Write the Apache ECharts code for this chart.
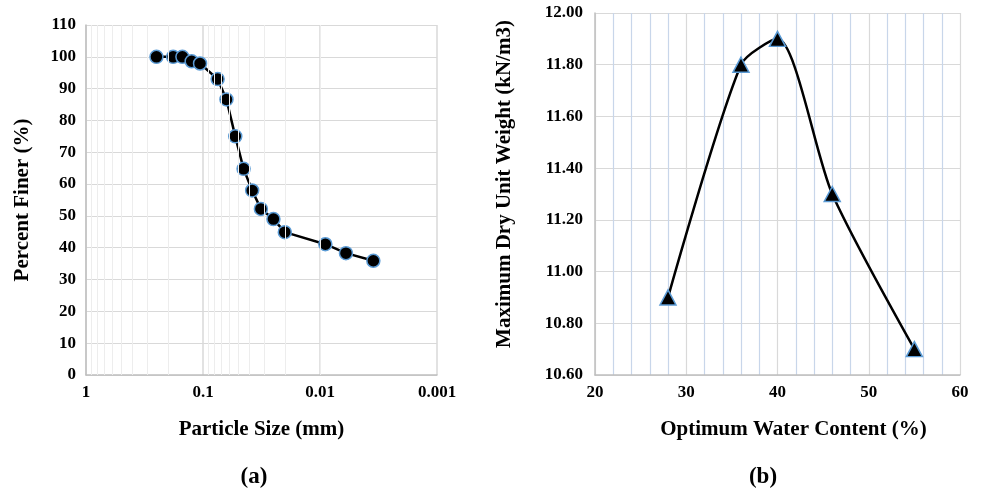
<!DOCTYPE html>
<meta charset="utf-8">
<style>
  html, body { margin: 0; padding: 0; background: #fff; }
  #container { width: 984px; height: 490px; }
</style>
<body>
<div id="container"></div>
<script src="https://cdn.jsdelivr.net/npm/echarts@6/dist/echarts.min.js"></script>
<script>

// (a) grain size curve
var sizeMm = [0.25, 0.18, 0.15, 0.125, 0.106, 0.075, 0.063, 0.053, 0.045, 0.038, 0.032, 0.025, 0.020, 0.009, 0.006, 0.0035];
var percentFiner = [100, 100, 100, 98.6, 97.9, 93, 86.6, 75, 64.8, 58, 52.2, 49, 44.9, 41.1, 38.3, 35.9];
var sizeTickLabels = ['1', '0.1', '0.01', '0.001'];
var minorSizes = [0.9, 0.8, 0.7, 0.6, 0.5, 0.4, 0.3, 0.2,
                  0.09, 0.08, 0.07, 0.06, 0.05, 0.04, 0.03, 0.02,
                  0.009, 0.008, 0.007, 0.006, 0.005, 0.004, 0.003, 0.002];

// (b) compaction curve
var waterContent = [28, 36, 40, 46, 55];
var dryUnitWeight = [10.9, 11.8, 11.9, 11.3, 10.7];

var font = "'Liberation Serif', 'Times New Roman', serif";
var tickStyle = { fontFamily: font, fontWeight: 'bold', fontSize: 17, color: '#000' };
var nameStyle = { fontFamily: font, fontWeight: 'bold', fontSize: 21, color: '#000' };
var gridGray = '#d9d9d9';
var axisGray = '#bfbfbf';

var myChart = echarts.init(document.getElementById('container'), null, { renderer: 'canvas' });

var option = {
  animation: false,
  grid: [
    { left: 86, top: 25, width: 351, height: 350, outerBoundsMode: 'none' },
    { left: 595, top: 13, width: 365, height: 362, outerBoundsMode: 'none' }
  ],
  xAxis: [
    {
      gridIndex: 0,
      type: 'log',
      logBase: 10,
      inverse: true,
      min: 0.001,
      max: 1,
      name: 'Particle Size (mm)',
      nameLocation: 'middle',
      nameGap: 44,
      nameTextStyle: nameStyle,
      axisLine: { show: true, lineStyle: { color: axisGray, width: 1.5 } },
      axisTick: { show: false },
      axisLabel: Object.assign({
        margin: 9,
        formatter: function (v) {
          return sizeTickLabels[Math.round(-Math.log10(v))];
        }
      }, tickStyle),
      splitLine: { show: true, lineStyle: { color: gridGray, width: 1.5 } }
    },
    {
      gridIndex: 1,
      type: 'value',
      min: 20,
      max: 60,
      interval: 10,
      name: 'Optimum Water Content (%)',
      nameLocation: 'middle',
      nameGap: 44,
      nameTextStyle: Object.assign({ padding: [0, 0, 0, 32] }, nameStyle),
      axisLine: { show: true, lineStyle: { color: axisGray, width: 1.5 } },
      axisTick: { show: false },
      axisLabel: Object.assign({ margin: 9 }, tickStyle),
      splitLine: { show: true, lineStyle: { color: gridGray, width: 1.2 } },
      minorTick: { show: false, splitNumber: 5 },
      minorSplitLine: { show: true, lineStyle: { color: '#c8d6ea', width: 1.2 } }
    }
  ],
  yAxis: [
    {
      gridIndex: 0,
      type: 'value',
      min: 0,
      max: 110,
      interval: 10,
      name: 'Percent Finer (%)',
      nameLocation: 'middle',
      nameGap: 53,
      nameTextStyle: nameStyle,
      axisLine: { show: true, lineStyle: { color: axisGray, width: 1.5 } },
      axisTick: { show: false },
      axisLabel: Object.assign({ margin: 10 }, tickStyle),
      splitLine: { show: true, lineStyle: { color: gridGray, width: 1.2 } }
    },
    {
      gridIndex: 1,
      type: 'value',
      min: 10.6,
      max: 12,
      interval: 0.2,
      name: 'Maximum Dry Unit Weight (kN/m3)',
      nameLocation: 'middle',
      nameGap: 80,
      nameTextStyle: Object.assign({ padding: [0, 0, 0, 20] }, nameStyle),
      axisLine: { show: true, lineStyle: { color: axisGray, width: 1.5 } },
      axisTick: { show: false },
      axisLabel: Object.assign({
        margin: 12,
        formatter: function (v) { return v.toFixed(2); }
      }, tickStyle),
      splitLine: { show: true, lineStyle: { color: gridGray, width: 1.2 } }
    }
  ],
  series: [
    {
      // minor log grid lines for (a)
      type: 'line',
      xAxisIndex: 0,
      yAxisIndex: 0,
      data: [],
      z: 0,
      silent: true,
      markLine: {
        silent: true,
        symbol: ['none', 'none'],
        label: { show: false },
        lineStyle: { color: '#ededed', width: 1, type: 'solid' },
        data: minorSizes.map(function (v) { return { xAxis: v }; })
      }
    },
    {
      type: 'line',
      xAxisIndex: 0,
      yAxisIndex: 0,
      data: sizeMm.map(function (s, i) { return [s, percentFiner[i]]; }),
      symbol: 'circle',
      symbolSize: 13,
      itemStyle: { color: '#000', borderColor: '#5b9bd5', borderWidth: 1.5 },
      lineStyle: { color: '#000', width: 2.5 },
      z: 3
    },
    {
      type: 'line',
      xAxisIndex: 1,
      yAxisIndex: 1,
      smooth: 0.25,
      data: waterContent.map(function (w, i) { return [w, dryUnitWeight[i]]; }),
      symbol: 'triangle',
      symbolSize: [16, 15],
      itemStyle: { color: '#000', borderColor: '#5b9bd5', borderWidth: 1.5 },
      lineStyle: { color: '#000', width: 2.5 },
      z: 3
    }
  ],
  graphic: [
    {
      type: 'text', x: 254, y: 477,
      style: { text: '(a)', align: 'center', verticalAlign: 'middle',
               font: 'bold 23px ' + font, fill: '#000' }
    },
    {
      type: 'text', x: 763, y: 477,
      style: { text: '(b)', align: 'center', verticalAlign: 'middle',
               font: 'bold 23px ' + font, fill: '#000' }
    }
  ]
};

myChart.setOption(option);
window.addEventListener('resize', myChart.resize);
</script>
</body>
